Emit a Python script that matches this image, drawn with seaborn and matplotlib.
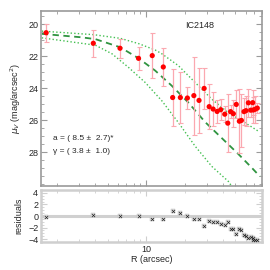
import numpy as np
import pandas as pd
import matplotlib
matplotlib.use("Agg")
import matplotlib.pyplot as plt
import seaborn as sns
from matplotlib.ticker import FixedLocator, NullFormatter, FixedFormatter, MultipleLocator

# surface brightness profile of IC2148
radius = [1.645, 3.85, 6.23, 8.7, 11.14, 13.6, 16.1, 18.5, 21.0, 23.6, 25.9, 28.4,
          31.1, 33.4, 35.9, 38.3, 41.2, 43.5, 45.8, 48.1, 50.7, 53.6, 55.6, 58.3,
          60.4, 63.1, 65.8, 68.2, 68.9, 71.4, 74.1]
mu_v = [20.52, 21.18, 21.49, 22.12, 21.95, 22.66, 24.57, 24.57, 24.6, 24.45, 24.75, 24.0,
        25.14, 25.29, 25.44, 25.33, 25.61, 26.17, 25.45, 25.58, 25.0, 26.05, 26.0, 25.45,
        25.39, 24.9, 25.36, 24.89, 25.35, 25.3, 25.23]
mu_err = [0.55, 0.84, 0.6, 0.72, 1.4, 1.2, 1.78, 1.57, 0.7, 2.44, 2.03, 1.28,
          1.4, 1.05, 0.74, 0.67, 0.52, 1.8, 0.4, 0.84, 0.88, 2.0, 1.68, 0.86,
          0.94, 0.87, 0.42, 0.8, 0.84, 0.85, 0.33]
resid = [-0.1, 0.2, 0.0, 0.05, -0.6, -0.5, 0.9, 0.45, 0.0, -0.6, -0.6, -1.8,
         -0.85, -1.0, -1.1, -1.45, -1.55, -1.1, -2.2, -2.25, -3.05, -2.3, -2.5, -3.25,
         -3.5, -3.9, -3.6, -4.2, -3.9, -4.1, -4.2]

# model fit and its envelope
fit_r = [1.52, 3.05, 4.0, 6.26, 8.71, 11.76, 15.88, 21.4, 28.9, 39.0, 52.6, 66.9, 77.7]
fit_mu = [20.59, 20.8, 20.92, 21.43, 22.12, 22.89, 23.84, 24.89, 26.1, 27.1, 28.1, 28.95, 29.5]
hi_r = [1.52, 3.86, 6.26, 8.71, 11.76, 13.27, 17.88, 24.14, 32.6, 43.95, 59.3, 75.4]
hi_mu = [20.42, 20.64, 20.87, 21.2, 21.6, 21.84, 22.58, 23.63, 24.67, 25.52, 26.14, 26.67]
lo_r = [1.52, 4.0, 5.4, 7.27, 9.82, 13.27, 17.88, 24.14, 32.6, 43.95, 49.0]
lo_mu = [20.84, 21.3, 21.84, 22.69, 23.63, 24.78, 26.14, 27.61, 28.87, 29.81, 30.35]

prof = pd.DataFrame({"R": radius, "mu": mu_v, "err": mu_err, "res": resid})

sns.set_style("ticks")
plt.rcParams["font.family"] = ["Liberation Sans", "DejaVu Sans"]

fig = plt.figure(figsize=(2.7, 2.7), dpi=100)
ax = fig.add_axes([0.152, 0.311, 0.818, 0.649])
axr = fig.add_axes([0.152, 0.104, 0.818, 0.192])

green_dark = "#2f9440"
green_light = "#45c052"

sns.lineplot(x=hi_r, y=hi_mu, ax=ax, color=green_light, lw=1.0, ls=(0, (1, 1.6)), sort=False)
sns.lineplot(x=lo_r, y=lo_mu, ax=ax, color=green_light, lw=1.0, ls=(0, (1, 1.6)), sort=False)
sns.lineplot(x=fit_r, y=fit_mu, ax=ax, color=green_dark, lw=1.3, ls=(0, (3.5, 2.5)), sort=False)

ax.errorbar(prof["R"], prof["mu"], yerr=prof["err"], fmt="none", ecolor="#fba8b0",
            elinewidth=0.9, capsize=1.8, capthick=0.8, zorder=3)
sns.scatterplot(data=prof, x="R", y="mu", ax=ax, color="#ff0000", s=14,
                edgecolor="none", zorder=4)

ax.set_xscale("log")
ax.set_xlim(1.5, 80.5)
ax.set_ylim(30.1, 19.15)
ax.set_xlabel("")
ax.set_ylabel(r"$\mu_V$ (mag/arcsec$^2$)", fontsize=6.5, labelpad=4)
ax.yaxis.set_major_locator(FixedLocator([20, 22, 24, 26, 28]))
ax.yaxis.set_minor_locator(MultipleLocator(0.5))

ax.text(0.72, 0.915, "IC2148", transform=ax.transAxes, ha="center", va="center", fontsize=6.5)
ax.text(0.055, 0.265, "a = ( 8.5 \u00b1  2.7)*", transform=ax.transAxes, fontsize=6)
ax.text(0.055, 0.19, "\u03b3 = ( 3.8 \u00b1  1.0)", transform=ax.transAxes, fontsize=6)

# residuals panel
axr.axhline(0, color="#d0d0d0", lw=2.2, zorder=1)
sns.scatterplot(data=prof, x="R", y="res", ax=axr, marker="s", s=7,
                color="#dcdcdc", edgecolor="#b8b8b8", linewidth=0.3, zorder=2)
sns.scatterplot(data=prof, x="R", y="res", ax=axr, marker="x", s=5,
                color="#222222", linewidth=0.5, zorder=3)
axr.set_xscale("log")
axr.set_xlim(1.5, 80.5)
axr.set_ylim(-4.5, 4.5)
axr.set_ylabel("residuals", fontsize=6.5, labelpad=3)
axr.set_xlabel("R (arcsec)", fontsize=6.5, labelpad=1)
axr.yaxis.set_major_locator(FixedLocator([-4, -2, 0, 2, 4]))
axr.yaxis.set_major_formatter(FixedFormatter(["\u22124", "\u22122", "0", "2", "4"]))
axr.yaxis.set_minor_locator(MultipleLocator(0.5))

minor_x = [2, 3, 4, 5, 6, 7, 8, 9, 20, 30, 40, 50, 60, 70, 80]
for a, spine_col, spine_w in [(ax, "#9a9a9a", 1.2), (axr, "#cfcfcf", 1.8)]:
    a.xaxis.set_major_locator(FixedLocator([10]))
    a.xaxis.set_minor_locator(FixedLocator(minor_x))
    a.xaxis.set_minor_formatter(NullFormatter())
    a.tick_params(which="both", direction="in", top=True, right=True,
                  color=spine_col, labelsize=6.5, pad=2)
    a.tick_params(which="major", length=4, width=0.8)
    a.tick_params(which="minor", length=2, width=0.6)
    for sp in a.spines.values():
        sp.set_color(spine_col)
        sp.set_linewidth(spine_w)
    if a.get_legend():
        a.get_legend().remove()

ax.xaxis.set_major_formatter(NullFormatter())
axr.xaxis.set_major_formatter(FixedFormatter(["10"]))

fig.savefig("out.png", dpi=100)
